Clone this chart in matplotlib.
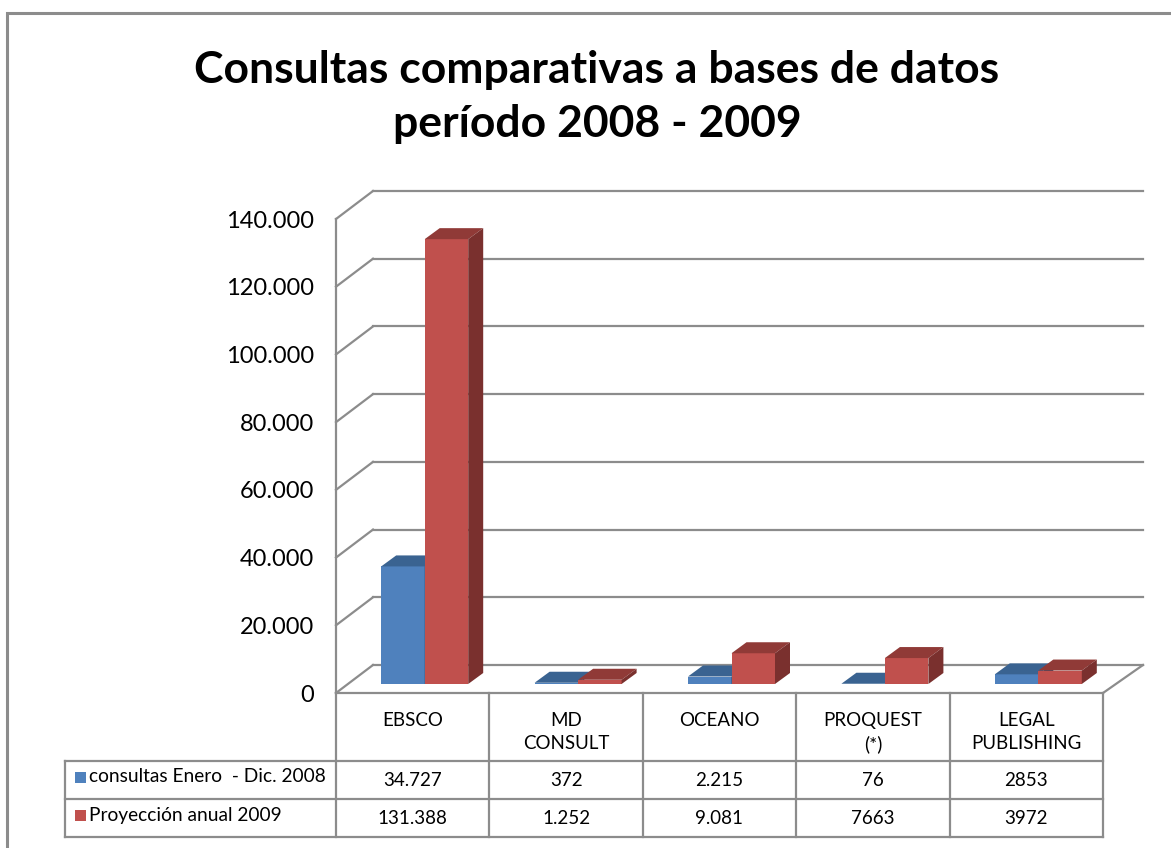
import matplotlib
matplotlib.use("Agg")
import matplotlib.pyplot as plt
from matplotlib.patches import Polygon, Rectangle
import numpy as np

# ---------------- data ----------------
categories = ["EBSCO", "MD\nCONSULT", "OCEANO", "PROQUEST\n(*)", "LEGAL\nPUBLISHING"]
series_names = ["consultas Enero  - Dic. 2008", "Proyección anual 2009"]
consultas_2008 = [34727, 372, 2215, 76, 2853]
proyeccion_2009 = [131388, 1252, 9081, 7663, 3972]
labels_2008 = ["34.727", "372", "2.215", "76", "2853"]
labels_2009 = ["131.388", "1.252", "9.081", "7663", "3972"]
yticks = [0, 20000, 40000, 60000, 80000, 100000, 120000, 140000]
ytick_labels = ["0", "20.000", "40.000", "60.000", "80.000", "100.000", "120.000", "140.000"]
title = "Consultas comparativas a bases de datos\nperíodo 2008 - 2009"

# ---------------- style ----------------
FONT = "Lato"
W, H = 1171, 848
front_col = ["#4F81BD", "#C0504D"]
top_col = ["#3A6391", "#903A37"]
side_col = ["#2E4E73", "#7A302E"]
grid_col = "#8C8C8C"

fig = plt.figure(figsize=(W / 100, H / 100), dpi=100)
fig.patch.set_facecolor("white")

# overlay in pixel coords (for frame + table)
ov = fig.add_axes([0, 0, 1, 1], zorder=0)
ov.set_xlim(0, W)
ov.set_ylim(H, 0)
ov.axis("off")

# main plot axes (front plane)
L, R, B, T = 336, 1103, 693, 219
ax = fig.add_axes([L / W, 1 - B / H, (R - L) / W, (B - T) / H], zorder=1)
ax.patch.set_alpha(0)
n = len(categories)
ymax = 140000
ax.set_xlim(-0.5, n - 0.5)
ax.set_ylim(0, ymax)
for s in ax.spines.values():
    s.set_visible(False)
ax.set_xticks([])
ax.set_yticks(yticks)
ax.set_yticklabels(ytick_labels, fontsize=17, fontfamily=FONT)
ax.tick_params(axis="y", length=0, pad=16)

cx = (R - L) / n          # px per category
cy = (B - T) / ymax       # px per value unit
def dx(p): return p / cx
def dy(p): return p / cy

# walls (gridlines)
WDX, WDY = 37, 28
x0, x1 = -0.5, n - 0.5
for v in yticks:
    ax.plot([x0, x0 + dx(WDX)], [v, v + dy(WDY)], color=grid_col, lw=1.6, clip_on=False, zorder=1)
    ax.plot([x0 + dx(WDX), x1 + dx(WDX + 3)], [v + dy(WDY)] * 2, color=grid_col, lw=1.6, clip_on=False, zorder=1)
ax.plot([x0, x0], [0, ymax], color=grid_col, lw=1.6, clip_on=False, zorder=1)
# floor front and right edges
ax.plot([x0, x1], [0, 0], color=grid_col, lw=1.6, clip_on=False, zorder=1)
ax.plot([x1, x1 + dx(WDX + 3)], [0, dy(WDY)], color=grid_col, lw=1.6, clip_on=False, zorder=1)

# bars
FX, FY = 12, 9       # front face offset
BDX, BDY = 15, 11    # bar depth
bw = 43.5 / cx
z = 3
for i in range(n):
    for s, vals in enumerate([consultas_2008, proyeccion_2009]):
        v = vals[i]
        left = i - bw + s * bw + dx(FX)
        base = dy(FY)
        ax.bar(left, v, width=bw, bottom=base, align="edge", color=front_col[s],
               edgecolor="none", zorder=z, clip_on=False)
        topy = base + v
        top = Polygon([[left, topy], [left + bw, topy], [left + bw + dx(BDX), topy + dy(BDY)],
                       [left + dx(BDX), topy + dy(BDY)]], closed=True, facecolor=top_col[s],
                      edgecolor="none", zorder=z, clip_on=False)
        side = Polygon([[left + bw, base], [left + bw + dx(BDX), base + dy(BDY)],
                        [left + bw + dx(BDX), topy + dy(BDY)], [left + bw, topy]], closed=True,
                       facecolor=side_col[s], edgecolor="none", zorder=z, clip_on=False)
        ax.add_patch(top)
        ax.add_patch(side)
        z += 1

# title
fig.text(597 / W, 1 - 97 / H, title, ha="center", va="center", fontsize=32,
         fontweight="bold", fontfamily=FONT, linespacing=1.45)

# outer frame
ov.plot([7, 7, W + 5], [H + 5, 13, 13], color=grid_col, lw=2.2, solid_joinstyle="miter")

# data table
TL = 65
rows_y = [693, 761, 799, 837]
colx = [L + cx * k for k in range(n + 1)]
tkw = dict(color=grid_col, lw=1.6)
for yy in rows_y[1:]:
    ov.plot([TL, R], [yy, yy], **tkw)
for k, xx in enumerate(colx):
    ov.plot([xx, xx], [rows_y[0], rows_y[3]], **tkw)
ov.plot([TL, TL], [rows_y[1], rows_y[3]], **tkw)

for i, cat in enumerate(categories):
    xc = (colx[i] + colx[i + 1]) / 2
    ov.text(xc, 712, cat, ha="center", va="top", fontsize=13.5, fontfamily=FONT,
            linespacing=1.4)
    ov.text(xc, (rows_y[1] + rows_y[2]) / 2, labels_2008[i], ha="center", va="center",
            fontsize=13.5, fontfamily=FONT)
    ov.text(xc, (rows_y[2] + rows_y[3]) / 2, labels_2009[i], ha="center", va="center",
            fontsize=13.5, fontfamily=FONT)

for s, name in enumerate(series_names):
    yc = (rows_y[1 + s] + rows_y[2 + s]) / 2 - 3
    ov.add_patch(Rectangle((75, yc - 5), 11, 11, facecolor=front_col[s], edgecolor="none"))
    ov.text(89, yc, name, ha="left", va="center", fontsize=13.8, fontfamily=FONT)

fig.savefig("out.png", dpi=100, facecolor="white")
